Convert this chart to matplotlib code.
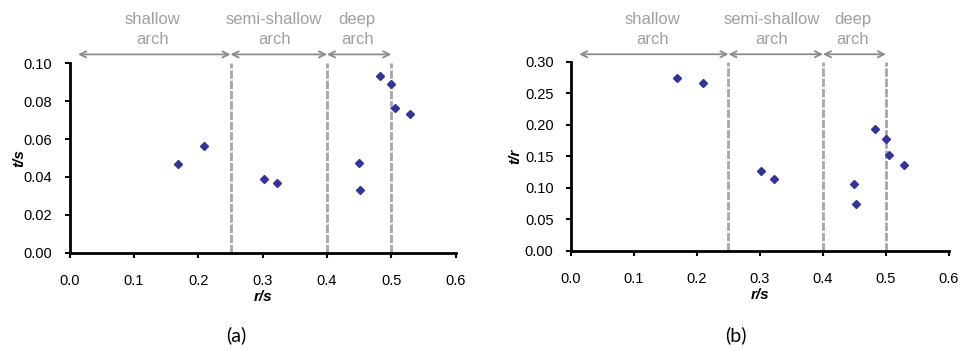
import numpy as np
import matplotlib
matplotlib.use("Agg")
import matplotlib.pyplot as plt

plt.rcParams['font.family'] = ['Liberation Sans', 'DejaVu Sans']

# data
r_s = [0.169, 0.209, 0.302, 0.322, 0.449, 0.452, 0.482, 0.500, 0.505, 0.529]
t_s = [0.0467, 0.0564, 0.0389, 0.0367, 0.0475, 0.0331, 0.0931, 0.0892, 0.0762, 0.0732]
t_r = [0.275, 0.266, 0.126, 0.114, 0.106, 0.074, 0.193, 0.178, 0.152, 0.137]

# arch zone limits and their labels
bounds = [0.25, 0.4, 0.5]
zone_edges = [(0.013, 0.25), (0.25, 0.4), (0.4, 0.5)]
zone_names = ['shallow\narch', 'semi-shallow\narch', 'deep\narch']
zone_x = [0.129, 0.318, 0.447]

xticks = [0.0, 0.1, 0.2, 0.3, 0.4, 0.5, 0.6]

fig = plt.figure(figsize=(9.72, 3.51), dpi=100)
ax1 = fig.add_axes([0.0717, 0.280, 0.3971, 0.5396])
ax2 = fig.add_axes([0.5874, 0.2858, 0.3889, 0.5376])

panels = [
    (ax1, t_s, 't/s', 0.10, 0.02, 1.047, -0.112, '(a)', 0.243),
    (ax2, t_r, 't/r', 0.30, 0.05, 1.041, -0.128, '(b)', 0.757),
]

for ax, yv, ylab, ymax, ystep, arrow_y, lab_x, tag, tag_x in panels:
    for b in bounds:
        ax.axvline(b, color='#a6a6a6', lw=2, dashes=(3, 0.7), zorder=1)
    ax.plot(r_s, yv, ls='none', marker='D', ms=4.3, color='#333399', zorder=3)

    ax.set_xlim(0, 0.6)
    ax.set_ylim(0, ymax)
    ax.set_xticks(xticks)
    ax.set_xticklabels(['{:.1f}'.format(v) for v in xticks])
    yt = np.arange(0, ymax + ystep / 2, ystep)
    ax.set_yticks(yt)
    ax.set_yticklabels(['{:.2f}'.format(v) for v in yt])
    ax.tick_params(axis='both', direction='out', length=3.5, width=1.5, labelsize=10.5)
    ax.tick_params(axis='x', pad=12)
    ax.tick_params(axis='y', pad=9)
    for s in ['top', 'right']:
        ax.spines[s].set_visible(False)
    for s in ['left', 'bottom']:
        ax.spines[s].set_linewidth(2)

    ax.set_xlabel('r/s', fontsize=11, fontweight='bold', fontstyle='italic', labelpad=1)
    ax.set_ylabel(ylab, fontsize=11, fontweight='bold', fontstyle='italic')
    ax.yaxis.set_label_coords(lab_x, 0.5)

    trans = ax.get_xaxis_transform()
    for x0, x1 in zone_edges:
        ax.annotate('', xy=(x1, arrow_y), xytext=(x0, arrow_y), xycoords=trans,
                    textcoords=trans, annotation_clip=False,
                    arrowprops=dict(arrowstyle='<->', color='#8c8c8c', lw=1.3,
                                    mutation_scale=11, shrinkA=0, shrinkB=0))
    for name, zx in zip(zone_names, zone_x):
        ax.text(zx, arrow_y + 0.04, name, transform=trans, ha='center', va='bottom',
                fontsize=12, color='#a0a0a0', linespacing=1.4, clip_on=False)

    fig.text(tag_x, 0.045, tag, ha='center', va='center', fontsize=14,
             family=['Lato', 'DejaVu Sans'])

fig.savefig('out.png', dpi=100)
